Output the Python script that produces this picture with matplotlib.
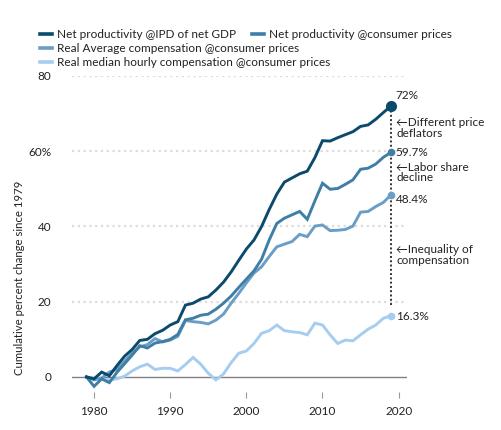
import matplotlib
matplotlib.use("Agg")
import matplotlib.pyplot as plt
from matplotlib.lines import Line2D

plt.rcParams['font.family'] = ['Lato', 'DejaVu Sans']

years = list(range(1979, 2020))

prod_ipd = [0, -0.5, 1.3, 0.3, 3.0, 5.5, 7.3, 9.7, 10.0, 11.5, 12.4, 13.8, 14.7,
            19.1, 19.6, 20.7, 21.3, 23.1, 25.2, 27.9, 31.0, 34.0, 36.4, 40.0,
            44.5, 48.6, 51.8, 52.9, 54.0, 54.7, 58.3, 62.8, 62.7, 63.6, 64.4,
            65.2, 66.6, 67.0, 68.5, 70.3, 72.0]
prod_cpi = [0, -2.5, -0.5, -1.5, 1.2, 3.5, 5.8, 8.3, 7.7, 9.0, 9.4, 10.0, 11.3,
            15.2, 15.6, 16.4, 16.7, 18.0, 19.6, 21.5, 23.8, 26.0, 28.2, 31.3,
            36.4, 40.8, 42.2, 43.1, 44.0, 41.9, 46.8, 51.5, 49.9, 50.1, 51.2,
            52.4, 55.2, 55.5, 56.6, 58.4, 59.7]
avg_comp = [0, -0.8, -0.3, 1.3, 2.0, 4.2, 6.3, 8.0, 8.6, 10.2, 9.3, 9.8, 10.8,
            15.0, 14.7, 14.5, 14.1, 15.1, 16.7, 19.6, 22.2, 25.0, 27.6, 29.3,
            32.0, 34.6, 35.3, 36.0, 37.9, 37.3, 40.1, 40.4, 38.9, 39.0, 39.2,
            40.1, 43.8, 44.0, 45.3, 46.4, 48.4]
median_comp = [0, -0.3, -0.6, -0.8, -0.5, 0.2, 1.6, 2.7, 3.4, 2.0, 2.3, 2.3, 1.6,
               3.3, 5.2, 3.4, 1.0, -0.8, 0.8, 3.8, 6.3, 6.9, 8.9, 11.6, 12.3,
               13.8, 12.3, 12.0, 11.8, 11.2, 14.3, 13.8, 11.2, 8.9, 9.8, 9.6,
               11.2, 12.7, 13.8, 15.6, 16.3]

series_names = ["Net productivity @IPD of net GDP",
                "Net productivity @consumer prices",
                "Real Average compensation @consumer prices",
                "Real median hourly compensation @consumer prices"]
end_labels = ["72%", "59.7%", "48.4%", "16.3%"]
notes = ["\u2190Different price\ndeflators", "\u2190Labor share\ndecline",
         "\u2190Inequality of\ncompensation"]
colors = ["#0b4a6c", "#3f7ea5", "#6b9ec6", "#a6cdef"]
series = [prod_ipd, prod_cpi, avg_comp, median_comp]

y_ticks = [0, 20, 40, 60, 80]
y_ticklabels = ["0", "20", "40", "60%", "80"]
x_ticks = [1980, 1990, 2000, 2010, 2020]

txt = "#222222"
W, H = 502, 430
fig = plt.figure(figsize=(W / 100, H / 100), dpi=100)
ax = fig.add_axes([72 / W, 1 - 392 / H, (407 - 72) / W, (392 - 76) / H])

for v in [20, 40, 60, 80]:
    ax.axhline(v, color="#dcdcdc", lw=1.6, ls=(0, (1, 1.6)), zorder=0)
ax.axhline(0, color="#808080", lw=1.0, zorder=1)

# vertical dotted gap line
ax.plot([years[-1], years[-1]], [19, prod_ipd[-1]], color="#333333", lw=1.4,
        ls=(0, (1, 1.2)), zorder=2)

for i in [3, 2, 1, 0]:
    ax.plot(years, series[i], color=colors[i], lw=2.1, zorder=3 + (3 - i),
            solid_joinstyle="miter")
    ms = 8 if i == 0 else 5.5
    ax.plot(years[-1], series[i][-1], "o", color=colors[i], ms=ms, mec="none",
            zorder=10)

# end labels
ax.text(2019.6, 74.9, end_labels[0], fontsize=8.5, color=txt, va="center")
ax.text(2019.5, 59.7, end_labels[1], fontsize=8.5, color=txt, va="center")
ax.text(2019.6, 47.2, end_labels[2], fontsize=8.5, color=txt, va="center")
ax.text(2019.6, 16.1, end_labels[3], fontsize=8.5, color=txt, va="center")

for y, note in zip([66.2, 54.4, 32.4], notes):
    ax.text(2019.7, y, note, fontsize=8.5, color=txt, va="center",
            linespacing=0.92)

ax.set_xlim(1977.1, 2021.1)
ax.set_ylim(-4, 80)
ax.set_xticks(x_ticks)
ax.set_yticks(y_ticks)
ax.set_yticklabels(y_ticklabels)
ax.tick_params(axis="x", length=4, width=0.8, color="#999999", pad=6,
               labelsize=8.5, labelcolor=txt)
ax.tick_params(axis="y", length=0, pad=15, labelsize=8.5, labelcolor=txt)
for s in ax.spines.values():
    s.set_visible(False)

fig.text(20 / W, 1 - 278 / H, "Cumulative percent change since 1979",
         rotation=90, fontsize=8.2, color=txt, ha="center", va="center")

# legend rows
leg_pos = [(40, 34), (252, 34), (40, 48), (40, 62)]
for (lx, ly), name, c in zip(leg_pos, series_names, colors):
    fig.add_artist(Line2D([lx / W, (lx + 12) / W], [1 - ly / H, 1 - ly / H],
                          color=c, lw=2.6, transform=fig.transFigure))
    fig.text((lx + 17) / W, 1 - ly / H, name, fontsize=8.5, color=txt,
             va="center", ha="left")

fig.savefig("out.png", dpi=100)
